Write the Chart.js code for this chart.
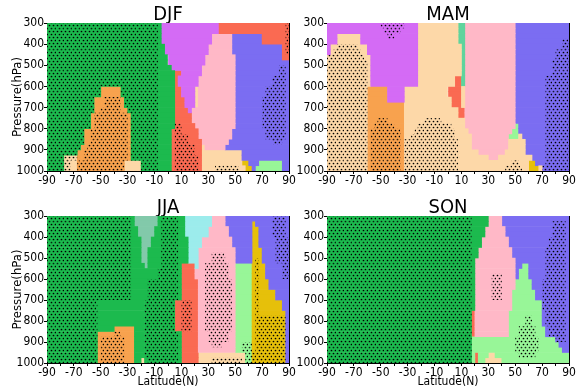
<!DOCTYPE html>
<html>
<head>
<meta charset="utf-8">
<script src="https://cdn.jsdelivr.net/npm/chart.js@4/dist/chart.umd.min.js"></script>
<style>
  body { margin: 0; background: #fff; }
  .panel { position: absolute; }
</style>
</head>
<body>
<div class="panel" id="p-djf" style="left:0;top:0;width:300px;height:192px"><canvas id="c-djf"></canvas></div>
<div class="panel" id="p-mam" style="left:280px;top:0;width:298px;height:192px"><canvas id="c-mam"></canvas></div>
<div class="panel" id="p-jja" style="left:0;top:190px;width:300px;height:199px"><canvas id="c-jja"></canvas></div>
<div class="panel" id="p-son" style="left:280px;top:190px;width:298px;height:199px"><canvas id="c-son"></canvas></div>
<script>
// regime colours, upper case code in a row = same colour with stippling
const regimeColors = {
  g: '#1cba4e', m: '#d46bf5', r: '#fa6a52', p: '#ffb8c7', b: '#7b6df2',
  c: '#fdd8a8', o: '#f8a24e', l: '#98f698', y: '#e6c00a', t: '#5fd49d',
  s: '#82c9aa', a: '#9cecec'
};

const latTicks = [-90, 90];
const pressureRange = [300, 1000];

// rows: [top hPa, bottom hPa, "code+end latitude ..."] starting at -90
const djfRows = [
  [300, 350, 'G-7.5 g-5 m37.5 r87.5 R90'],
  [350, 400, 'G-7.5 g-5 m32.5 p47.5 b70 r87.5 R90'],
  [400, 450, 'G-7.5 g-2.5 m30 p47.5 b85 r87.5 R90'],
  [450, 475, 'G-7.5 g0 m27.5 p50 b85 r90'],
  [475, 500, 'G-7.5 g0 m27.5 p50 b90'],
  [500, 525, 'G-7.5 g2.5 m25 p50 b82.5 B87.5 b90'],
  [525, 550, 'G-7.5 g5 r10 m25 p50 b82.5 B87.5 b90'],
  [550, 600, 'G-7.5 g5 r7.5 m22.5 p50 b77.5 B87.5 b90'],
  [600, 650, 'G-50 o-35 G-7.5 g5 r10 m20 c22.5 p50 b72.5 B87.5 b90'],
  [650, 700, 'G-55 o-47.5 O-35 o-32.5 G-7.5 g5 r12.5 m20 c22.5 p50 b70 B87.5 b90'],
  [700, 725, 'G-55 o-50 O-35 o-30 G-7.5 g5 r15 m17.5 p50 b70 B87.5 b90'],
  [725, 775, 'G-57.5 o-55 O-30 o-27.5 G-7.5 g5 r17.5 p50 b70 B87.5 b90'],
  [775, 800, 'G-57.5 o-55 O-30 o-27.5 G-7.5 g5 R10 r20 p50 b70 B87.5 b90'],
  [800, 825, 'G-62.5 o-57.5 O-30 o-27.5 G-7.5 g2.5 r5 R10 r22.5 p47.5 b72.5 B87.5 b90'],
  [825, 850, 'G-62.5 o-57.5 O-30 o-27.5 G-7.5 g2.5 r5 R15 r22.5 p47.5 b72.5 B87.5 b90'],
  [850, 875, 'G-62.5 o-57.5 O-30 o-27.5 G-7.5 g2.5 r5 R15 r25 p45 b77.5 B85 b90'],
  [875, 900, 'G-65 o-60 O-30 o-27.5 G-7.5 g2.5 r5 R20 r25 c27.5 p42.5 b90'],
  [900, 925, 'G-67.5 o-62.5 O-30 o-27.5 G-7.5 g2.5 r5 R20 r25 c55 b90'],
  [925, 950, 'G-77.5 C-67.5 o-62.5 O-30 o-27.5 G-7.5 g2.5 r5 R22.5 r25 c55 b90'],
  [950, 975, 'G-77.5 C-72.5 c-67.5 O-32.5 c-20 G-7.5 g2.5 r5 R22.5 r25 c55 y60 b67.5 l85 b90'],
  [975, 1000, 'G-77.5 C-72.5 c-67.5 O-32.5 c-20 G-7.5 g2.5 r5 R22.5 r25 c35 C52.5 c57.5 y62.5 b65 l85 b90']
];

const mamRows = [
  [300, 325, 'm-50 M-32.5 m-22.5 c7.5 t12.5 p50 b90'],
  [325, 350, 'm-47.5 M-35 m-22.5 c7.5 t12.5 p50 b90'],
  [350, 375, 'm-82.5 c-65 m-45 M-40 m-22.5 c7.5 t12.5 p50 b90'],
  [375, 400, 'm-82.5 c-65 m-22.5 c7.5 t12.5 p50 b85 B90'],
  [400, 425, 'm-87.5 c-82.5 C-67.5 c-60 m-22.5 c10 t12.5 p50 b85 B90'],
  [425, 450, 'm-87.5 c-85 C-65 c-60 m-22.5 c10 t12.5 p50 b80 B90'],
  [450, 475, 'C-62.5 c-57.5 m-22.5 c10 t12.5 p50 b80 B90'],
  [475, 550, 'C-60 c-57.5 m-22.5 c10 t12.5 p50 b77.5 B90'],
  [550, 600, 'C-60 c-57.5 m-22.5 c5 r10 t12.5 p50 b72.5 B90'],
  [600, 650, 'C-60 o-45 m-32.5 c0 r10 c12.5 p50 b72.5 B90'],
  [650, 675, 'C-60 o-45 m-32.5 c2.5 r10 c12.5 p50 b72.5 B90'],
  [675, 700, 'C-60 o-32.5 c2.5 r10 c12.5 p50 b72.5 B90'],
  [700, 750, 'C-60 o-32.5 c7.5 r12.5 p50 b72.5 B90'],
  [750, 775, 'C-60 o-52.5 O-45 o-32.5 c-17.5 C-5 c12.5 p50 b72.5 B90'],
  [775, 800, 'C-60 o-55 O-40 o-32.5 c-22.5 C2.5 c12.5 p50 l52.5 b72.5 B90'],
  [800, 825, 'C-60 o-57.5 O-35 o-32.5 c-25 C5 c15 p47.5 l52.5 b72.5 B90'],
  [825, 850, 'C-60 o-57.5 O-35 o-32.5 c-27.5 C5 c17.5 p45 l52.5 c55 b72.5 B90'],
  [850, 900, 'C-60 o-57.5 O-35 o-32.5 C7.5 c17.5 p45 c57.5 b72.5 B90'],
  [900, 925, 'C-60 o-57.5 O-35 o-32.5 C7.5 c22.5 p42.5 c57.5 b72.5 B90'],
  [925, 950, 'C-60 o-57.5 O-35 o-32.5 C7.5 c30 p37.5 c62.5 b72.5 B90'],
  [950, 975, 'C-60 o-57.5 O-35 o-32.5 C7.5 c47.5 C52.5 c60 y65 b72.5 B90'],
  [975, 1000, 'C-60 o-57.5 O-35 o-32.5 C7.5 c42.5 C55 c60 y67.5 c70 B90']
];

const jjaRows = [
  [300, 325, 'G-27.5 g-25 s-7.5 g-5 G7.5 g12.5 a32.5 p42.5 b77.5 B87.5 b90'],
  [325, 350, 'G-27.5 g-25 s-7.5 g-5 G7.5 g12.5 a32.5 p42.5 b62.5 y65 b77.5 B87.5 b90'],
  [350, 400, 'G-27.5 g-22.5 s-10 g-5 G7.5 g12.5 a30 p45 b62.5 y67.5 b77.5 B87.5 b90'],
  [400, 450, 'G-27.5 g-20 s-12.5 g-5 G7.5 g15 a25 p47.5 b62.5 y67.5 b80 B90'],
  [450, 475, 'G-27.5 g-20 s-15 g-5 G7.5 g15 a22.5 p50 b62.5 y70 b80 B90'],
  [475, 500, 'G-27.5 g-20 s-15 g-5 G7.5 g15 a22.5 p32.5 P42.5 p50 b62.5 y70 b80 B90'],
  [500, 525, 'G-27.5 g-20 s-15 g-5 G7.5 g15 a22.5 p32.5 P42.5 p50 b62.5 y65 Y67.5 y70 b80 B90'],
  [525, 550, 'G-27.5 g-17.5 s-15 g-5 G7.5 g10 r20 a22.5 p27.5 P45 p50 l62.5 y65 Y67.5 y72.5 b85 B90'],
  [550, 600, 'G-27.5 g-7.5 G7.5 g10 r20 p27.5 P45 p50 l62.5 y65 Y67.5 y72.5 b85 B90'],
  [600, 650, 'G-27.5 g-15 G7.5 g10 r22.5 p27.5 P47.5 p50 l62.5 y65 Y67.5 y75 b90'],
  [650, 700, 'G-27.5 g-15 G7.5 g10 r22.5 p27.5 P47.5 p50 l62.5 y65 Y67.5 y80 b90'],
  [700, 750, 'G-52.5 g-17.5 G5 r10 R17.5 r22.5 p27.5 P47.5 p50 l62.5 y65 Y67.5 y85 b90'],
  [750, 775, 'G-52.5 g-17.5 G5 r10 R17.5 r22.5 p27.5 P47.5 p50 l62.5 y65 Y67.5 y87.5 b90'],
  [775, 825, 'G-52.5 g-17.5 G5 r10 R17.5 r22.5 p27.5 P47.5 p50 l62.5 y65 Y87.5 b90'],
  [825, 850, 'G-52.5 g-40 o-25 g-17.5 G5 r10 R17.5 r22.5 p27.5 P47.5 p50 l62.5 y65 Y87.5 b90'],
  [850, 875, 'G-52.5 o-40 O-35 o-25 g-17.5 G7.5 g10 r22.5 p30 P45 p50 l62.5 y65 Y87.5 b90'],
  [875, 900, 'G-52.5 o-50 O-32.5 o-25 g-17.5 G7.5 g10 r22.5 p30 P45 p50 l62.5 y65 Y87.5 b90'],
  [900, 925, 'G-52.5 o-50 O-32.5 o-25 g-17.5 G7.5 g10 r22.5 p32.5 P40 p50 l55 L62.5 y65 Y87.5 b90'],
  [925, 950, 'G-52.5 o-50 O-32.5 o-25 g-17.5 G7.5 g10 r22.5 p50 l55 L62.5 y65 Y87.5 b90'],
  [950, 975, 'G-52.5 o-50 O-32.5 o-25 g-17.5 G7.5 g10 r22.5 c57.5 L62.5 Y87.5 b90'],
  [975, 1000, 'G-52.5 o-50 O-32.5 o-25 g-20 c-17.5 g-15 G7.5 g10 r22.5 c32.5 C55 c57.5 L62.5 Y87.5 b90']
];

const sonRows = [
  [300, 325, 'G17.5 g30 p40 b90'],
  [325, 350, 'G17.5 g30 p40 b77.5 B87.5 b90'],
  [350, 400, 'G17.5 g27.5 p42.5 b77.5 B87.5 b90'],
  [400, 450, 'G17.5 g25 p45 b75 B87.5 b90'],
  [450, 500, 'G17.5 g22.5 p47.5 b72.5 B87.5 b90'],
  [500, 525, 'G17.5 g20 p50 b72.5 B87.5 b90'],
  [525, 550, 'G17.5 g20 p50 b55 l60 b72.5 B87.5 b90'],
  [550, 575, 'G17.5 g20 p50 b52.5 l60 b72.5 B87.5 b90'],
  [575, 600, 'G17.5 g20 p32.5 P40 p50 b52.5 l60 b72.5 B87.5 b90'],
  [600, 650, 'G17.5 g20 p32.5 P40 p50 l62.5 b70 B87.5 b90'],
  [650, 700, 'G17.5 g20 p32.5 P40 p47.5 l65 b70 B87.5 b90'],
  [700, 750, 'G17.5 g20 p47.5 l70 B87.5 b90'],
  [750, 775, 'G17.5 r20 p45 l70 b72.5 B87.5 b90'],
  [775, 825, 'G17.5 r20 p45 l57.5 L62.5 l70 b72.5 B87.5 b90'],
  [825, 875, 'G17.5 r20 p45 l52.5 L65 l72.5 b75 B87.5 b90'],
  [875, 900, 'G17.5 l50 L67.5 l80 B87.5 b90'],
  [900, 925, 'G17.5 l50 L67.5 l82.5 b90'],
  [925, 950, 'G17.5 l50 L67.5 l85 b90'],
  [950, 975, 'G17.5 l20 r22.5 l30 c35 l52.5 L65 l90'],
  [975, 1000, 'G17.5 l20 r22.5 l27.5 c40 l90']
];

Chart.defaults.font.family = '"Liberation Sans Narrow", "DejaVu Sans Condensed", "Liberation Sans", Arial, sans-serif';
Chart.defaults.color = '#000';

// staggered dot texture used for the stippled (significant) cells
function dotPattern() {
  const c = document.createElement('canvas');
  c.width = 8; c.height = 6;
  const x = c.getContext('2d');
  x.fillStyle = '#000';
  [[1.5, 1.5], [5.5, 1.5], [3.5, 4.5], [7.5, 4.5]].forEach(([cx, cy]) => {
    x.beginPath();
    x.arc(cx, cy, 0.85, 0, Math.PI * 2);
    x.fill();
  });
  return x.createPattern(c, 'repeat');
}

function buildDatasets(rows) {
  const byCode = {};
  const stipple = [];
  rows.forEach(([top, bottom, segs]) => {
    for (let p = top; p < bottom; p += 25) {
      let start = latTicks[0];
      segs.split(' ').forEach(s => {
        const code = s[0];
        const end = parseFloat(s.slice(1));
        const k = code.toLowerCase();
        (byCode[k] = byCode[k] || []).push({ y: p + 12.5, x: [start, end] });
        if (code !== k) stipple.push({ y: p + 12.5, x: [start, end] });
        start = end;
      });
    }
  });
  const sets = [{
    label: 'stipple',
    data: stipple,
    backgroundColor: dotPattern(),
    borderWidth: 0,
    inflateAmount: 0
  }];
  Object.keys(byCode).forEach(k => {
    sets.push({
      label: k,
      data: byCode[k],
      backgroundColor: regimeColors[k],
      borderWidth: 0
    });
  });
  return sets;
}

function drawPanel(id, title, rows, opts) {
  const ctx = document.getElementById(id).getContext('2d');
  return new Chart(ctx, {
    type: 'bar',
    data: { datasets: buildDatasets(rows) },
    options: {
      indexAxis: 'y',
      responsive: true,
      maintainAspectRatio: false,
      animation: false,
      grouped: false,
      barPercentage: 1,
      categoryPercentage: 1,
      layout: { padding: { left: 0, right: opts.padRight, top: 0, bottom: 0 } },
      plugins: {
        legend: { display: false },
        tooltip: { enabled: false },
        title: {
          display: true,
          text: title,
          fullSize: false,
          font: { size: 20, weight: 'normal', lineHeight: 0.8 },
          padding: { top: opts.titleTop, bottom: opts.titleBottom }
        }
      },
      scales: {
        x: {
          type: 'linear',
          position: 'bottom',
          min: latTicks[0],
          max: latTicks[1],
          afterFit: s => { s.height = opts.xHeight; },
          ticks: {
            stepSize: 10,
            autoSkip: false,
            maxRotation: 0,
            padding: 0,
            font: { size: 12 },
            callback: v => ((v + 90) % 20 === 0 ? String(v) : '')
          },
          grid: { drawOnChartArea: false, tickLength: 3, color: '#000' },
          border: { color: '#000' },
          title: {
            display: opts.xTitle,
            text: 'Latitude(N)',
            font: { size: 12 },
            padding: { top: 0, bottom: 0 }
          }
        },
        x2: {
          type: 'linear',
          position: 'top',
          min: latTicks[0],
          max: latTicks[1],
          afterFit: s => { s.height = 0; },
          ticks: { display: false },
          grid: { display: false, drawTicks: false },
          border: { color: '#000' }
        },
        y: {
          type: 'linear',
          position: 'left',
          reverse: true,
          offset: false,
          min: pressureRange[0],
          max: pressureRange[1],
          afterFit: s => { s.width = 47; },
          ticks: { stepSize: 100, padding: 0, font: { size: 12 }, callback: v => String(v) },
          grid: { drawOnChartArea: false, offset: false, tickLength: 3, color: '#000' },
          border: { color: '#000' },
          title: {
            display: opts.yTitle,
            text: 'Pressure(hPa)',
            font: { size: 13 },
            padding: { top: 10, bottom: 0 }
          }
        },
        y2: {
          type: 'linear',
          position: 'right',
          reverse: true,
          offset: false,
          min: pressureRange[0],
          max: pressureRange[1],
          afterFit: s => { s.width = 0; },
          ticks: { display: false },
          grid: { display: false, drawTicks: false },
          border: { color: '#000' }
        }
      }
    }
  });
}

drawPanel('c-djf', 'DJF', djfRows, { padRight: 11, titleTop: 7, titleBottom: 0, xHeight: 21, xTitle: false, yTitle: true });
drawPanel('c-mam', 'MAM', mamRows, { padRight: 9, titleTop: 7, titleBottom: 0, xHeight: 21, xTitle: false, yTitle: false });
drawPanel('c-jja', 'JJA', jjaRows, { padRight: 11, titleTop: 10, titleBottom: 0, xHeight: 26, xTitle: true, yTitle: true });
drawPanel('c-son', 'SON', sonRows, { padRight: 9, titleTop: 10, titleBottom: 0, xHeight: 26, xTitle: true, yTitle: false });
</script>
</body>
</html>
